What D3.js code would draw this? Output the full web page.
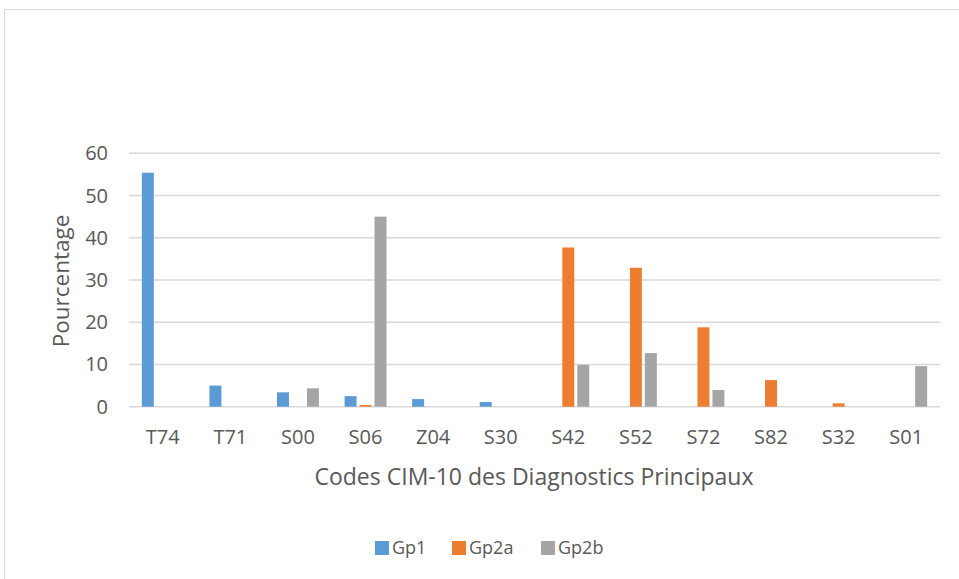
<!DOCTYPE html>
<html lang="en">
<head>
    <meta charset="UTF-8">
    <title>Codes CIM-10 des Diagnostics Principaux</title>
    <style>
        body {
            margin: 0;
            background-color: #ffffff;
        }
        svg text {
            font-family: "Open Sans", "Liberation Sans", sans-serif;
            fill: #595959;
        }
        .grid line {
            stroke: #d9d9d9;
            stroke-width: 1.5px;
        }
    </style>
    <script src="https://d3js.org/d3.v7.min.js"></script>
</head>
<body>
    <div id="chart"></div>
    <script>
        const categories = ["T74", "T71", "S00", "S06", "Z04", "S30", "S42", "S52", "S72", "S82", "S32", "S01"];
        const seriesNames = ["Gp1", "Gp2a", "Gp2b"];
        const gp1 = [55.4, 5.0, 3.4, 2.5, 1.8, 1.1, 0, 0, 0, 0, 0, 0];
        const gp2a = [0, 0, 0, 0.4, 0, 0, 37.7, 32.9, 18.8, 6.3, 0.8, 0];
        const gp2b = [0, 0, 4.35, 45.0, 0, 0, 9.9, 12.7, 3.95, 0, 0, 9.6];
        const yTicks = [0, 10, 20, 30, 40, 50, 60];
        const colors = ["#5b9bd5", "#ed7d31", "#a5a5a5"];

        const width = 959, height = 579;
        const plot = { left: 129, right: 940, top: 153.3, bottom: 406.7 };

        const svg = d3.select("#chart")
            .append("svg")
            .attr("width", width)
            .attr("height", height);

        // chart border
        svg.append("rect")
            .attr("x", 4.5).attr("y", 9.5)
            .attr("width", 970).attr("height", 600)
            .attr("fill", "none")
            .attr("stroke", "#d9d9d9");

        const x0 = d3.scaleBand()
            .domain(categories)
            .range([plot.left, plot.right])
            .paddingInner(0.38)
            .paddingOuter(0.19);

        const x1 = d3.scaleBand()
            .domain(seriesNames)
            .range([0, x0.bandwidth()])
            .paddingInner(0.2);

        const y = d3.scaleLinear()
            .domain([0, 60])
            .range([plot.bottom, plot.top]);

        // gridlines
        svg.append("g")
            .attr("class", "grid")
            .selectAll("line")
            .data(yTicks)
            .enter().append("line")
            .attr("x1", plot.left)
            .attr("x2", plot.right)
            .attr("y1", d => y(d))
            .attr("y2", d => y(d));

        // y tick labels
        svg.append("g")
            .selectAll("text")
            .data(yTicks)
            .enter().append("text")
            .attr("x", 108)
            .attr("y", d => y(d))
            .attr("dy", "0.35em")
            .attr("text-anchor", "end")
            .style("font-size", "20px")
            .text(d => d);

        // bars
        const allSeries = [gp1, gp2a, gp2b];
        const rows = [];
        categories.forEach((c, i) => {
            seriesNames.forEach((s, j) => {
                rows.push({ cat: c, series: s, value: allSeries[j][i], color: colors[j] });
            });
        });

        svg.append("g")
            .selectAll("rect")
            .data(rows.filter(d => d.value > 0))
            .enter().append("rect")
            .attr("x", d => x0(d.cat) + x1(d.series))
            .attr("y", d => y(d.value))
            .attr("width", x1.bandwidth())
            .attr("height", d => y(0) - y(d.value))
            .attr("fill", d => d.color);

        // x tick labels
        svg.append("g")
            .selectAll("text")
            .data(categories)
            .enter().append("text")
            .attr("x", d => x0(d) + x0.bandwidth() / 2)
            .attr("y", 437)
            .attr("dy", "0.35em")
            .attr("text-anchor", "middle")
            .style("font-size", "20px")
            .text(d => d);

        // axis titles
        svg.append("text")
            .attr("x", 534)
            .attr("y", 477)
            .attr("dy", "0.35em")
            .attr("text-anchor", "middle")
            .style("font-size", "23px")
            .text("Codes CIM-10 des Diagnostics Principaux");

        svg.append("text")
            .attr("transform", "translate(61,281) rotate(-90)")
            .attr("dy", "0.35em")
            .attr("text-anchor", "middle")
            .style("font-size", "22.5px")
            .text("Pourcentage");

        // legend
        const legendX = [375, 452, 541];
        const legend = svg.append("g")
            .selectAll("g")
            .data(seriesNames)
            .enter().append("g")
            .attr("transform", (d, i) => `translate(${legendX[i]},541)`);

        legend.append("rect")
            .attr("width", 14)
            .attr("height", 14)
            .attr("fill", (d, i) => colors[i]);

        legend.append("text")
            .attr("x", 17)
            .attr("y", 7)
            .attr("dy", "0.35em")
            .style("font-size", "18px")
            .text(d => d);
    </script>
</body>
</html>
